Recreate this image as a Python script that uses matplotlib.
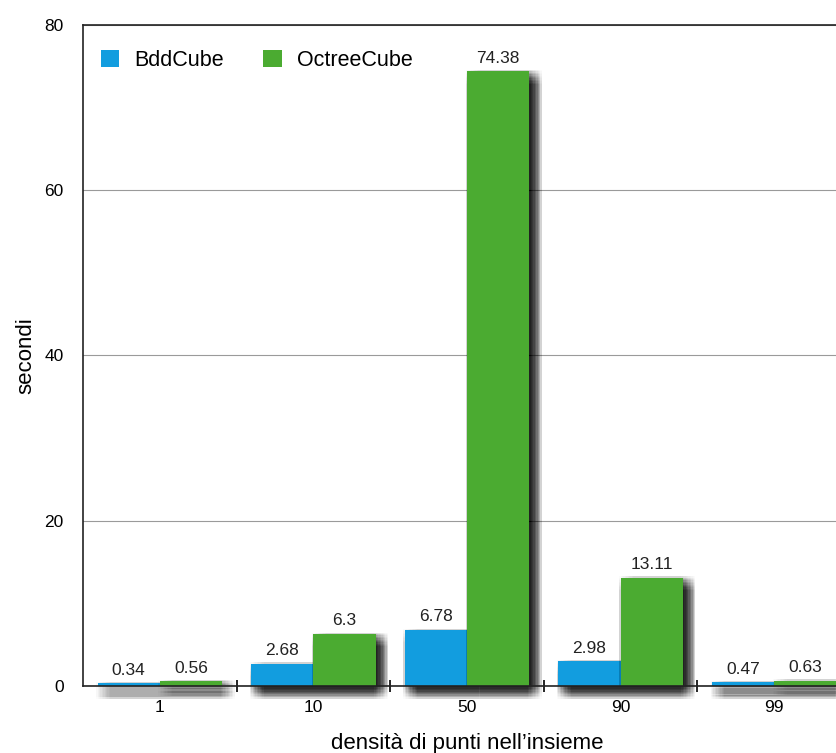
import matplotlib
matplotlib.use("Agg")
import matplotlib.pyplot as plt
import matplotlib.patheffects as pe
import numpy as np

plt.rcParams['font.family'] = ['Liberation Sans', 'DejaVu Sans']

densities = ["1", "10", "50", "90", "99"]
bdd_cube = [0.34, 2.68, 6.78, 2.98, 0.47]
octree_cube = [0.56, 6.3, 74.38, 13.11, 0.63]
y_ticks = [0, 20, 40, 60, 80]

blue = "#129ddf"
green = "#4bab31"

fig = plt.figure(figsize=(8.37, 7.53), dpi=100)
ax = fig.add_axes([83 / 837, 1 - 686 / 753, (851 - 83) / 837, (686 - 25) / 753])

x = np.arange(len(densities))
w = 0.405

# soft drop shadow built from many faint offset copies
soft_shadow = []
for dx in np.arange(-5, 5.5, 1.0):
    for dy in np.arange(-5, 5.5, 1.0):
        soft_shadow.append(pe.SimplePatchShadow(offset=(4 + dx, -4 - dy),
                                                shadow_rgbFace="black", alpha=0.014))
soft_shadow.append(pe.Normal())

b1 = ax.bar(x - w / 2, bdd_cube, w, color=blue, label="BddCube", zorder=3, clip_on=False)
b2 = ax.bar(x + w / 2, octree_cube, w, color=green, label="OctreeCube", zorder=3, clip_on=False)
for bars in (b1, b2):
    for p in bars:
        p.set_path_effects(soft_shadow)

for bars, vals in ((b1, bdd_cube), (b2, octree_cube)):
    for p, v in zip(bars, vals):
        ax.annotate(f"{v:g}", (p.get_x() + p.get_width() / 2, v),
                    xytext=(0, 4), textcoords="offset points",
                    ha="center", va="bottom", fontsize=12.5, color="#222222", zorder=4)

ax.set_xlim(-0.5, len(densities) - 0.5)
ax.set_ylim(0, 80)
ax.set_yticks(y_ticks)
ax.tick_params(axis="y", length=0, labelsize=12.5, pad=14)
ax.set_xticks(x)
ax.set_xticklabels(densities)
ax.set_xticks(np.arange(0.5, len(densities) - 0.5, 1), minor=True)
ax.tick_params(axis="x", which="major", length=0, labelsize=12.5, pad=10)
ax.tick_params(axis="x", which="minor", direction="inout", length=9, width=1.2)

ax.yaxis.grid(True, color="#9a9a9a", linewidth=0.8, zorder=0)
ax.set_axisbelow(True)
for s in ("left", "top", "bottom"):
    ax.spines[s].set_linewidth(1.2)
    ax.spines[s].set_color("#222222")
    ax.spines[s].set_zorder(5)
ax.spines["right"].set_visible(False)

ax.set_ylabel("secondi", fontsize=16, labelpad=6)
ax.set_xlabel("densità di punti nell’insieme", fontsize=16, labelpad=13)

leg = ax.legend(loc="upper left", ncol=2, frameon=False, fontsize=15.5,
                handlelength=0.84, handleheight=0.84, handletextpad=0.7,
                columnspacing=1.85, borderaxespad=0.0,
                bbox_to_anchor=(0.012, 0.975))
for h in leg.legend_handles:
    h.set_path_effects([])

fig.savefig("out.png", dpi=100)
